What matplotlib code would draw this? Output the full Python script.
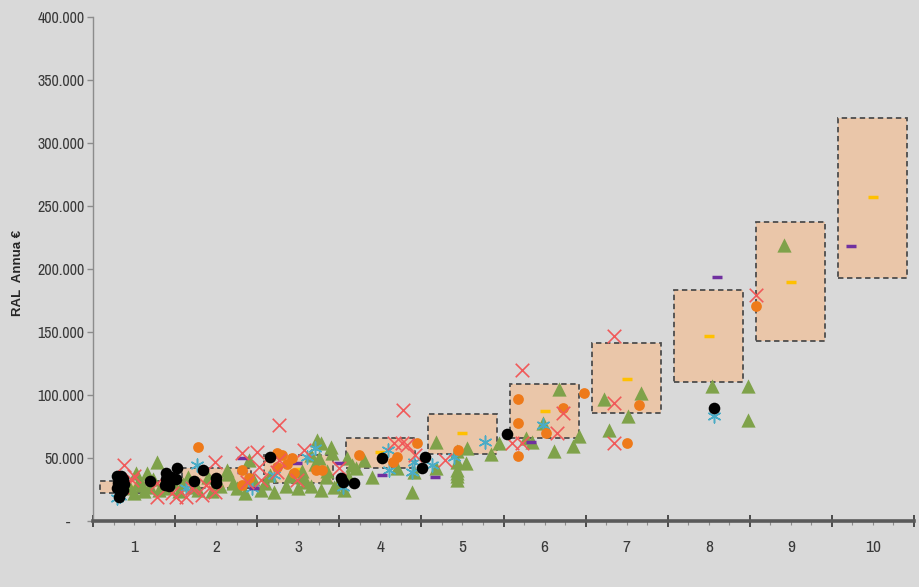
import numpy as np
import matplotlib
matplotlib.use("Agg")
import matplotlib.pyplot as plt
from matplotlib import font_manager
from matplotlib.ticker import FixedLocator, MultipleLocator, FuncFormatter, NullFormatter
from matplotlib.transforms import blended_transform_factory

# prefer a condensed face for the axis numbers when one is installed
_families = sorted({f.name for f in font_manager.fontManager.ttflist})
_narrow = [n for n in _families if 'Narrow' in n or 'Condensed' in n]
NUM_FONT = [_narrow[0]] if _narrow else []
NUM_FONT += ['Liberation Sans', 'DejaVu Sans']
NUM_SIZE = 11.5 if _narrow else 9.5
plt.rcParams['font.family'] = NUM_FONT

# ---- salary bands per level (thousands of euro) ----
box_cat = [1, 2, 3, 4, 5, 6, 7, 8, 9, 10]
box_low = [22, 26, 30, 42, 53, 66, 86, 110, 143, 193]
box_high = [32, 42, 52, 66, 85, 109, 141, 183, 237, 320]
box_median = [27, 33, 41, 55, 70, 87, 113, 147, 190, 257]

# ---- individual salaries (level position, thousands of euro) ----
green_x = [0.95, 1.00, 1.02, 1.05, 1.10, 1.12, 1.16, 1.20, 1.23, 1.28, 1.30, 1.35, 1.42, 1.48,
           1.55, 1.60, 1.66, 1.72, 1.78,
           1.90, 1.95, 2.05, 2.13, 2.15, 2.20, 2.25, 2.35, 2.40, 2.45, 2.55, 2.60, 2.65, 2.71,
           2.85, 2.90, 3.00,
           3.05, 3.05, 3.10, 3.15, 3.15, 3.20, 3.23, 3.25, 3.28, 3.28, 3.34, 3.35, 3.40, 3.41,
           3.44, 3.48, 3.56, 3.59, 3.60, 3.66, 3.70, 3.80, 3.90,
           4.20, 4.38, 4.41, 4.68, 4.68, 4.93, 4.93, 4.93, 4.93, 4.93, 4.93, 5.04, 5.05, 5.35, 5.45,
           5.78, 5.85, 5.98, 6.11, 6.17, 6.35, 6.42,
           6.73, 6.79, 7.02, 7.17,
           8.04, 8.48, 8.48, 8.92]
green_y = [26.0, 22.5, 38.1, 30.0, 28.6, 24.0, 38.1, 27.0, 33.0, 46.8, 25.0, 30.0, 26.0, 31.0,
           24.0, 29.0, 35.0, 27.0, 24.5,
           35.0, 24.0, 28.0, 40.5, 37.0, 30.2, 26.0, 22.0, 48.4, 33.0, 25.0, 30.0, 36.5, 23.0,
           28.0, 36.0, 26.0,
           34.9, 40.0, 31.0, 28.0, 52.0, 45.0, 64.3, 50.0, 62.0, 24.6, 34.9, 40.0, 58.7, 54.0,
           27.0, 30.0, 24.6, 50.0, 36.0, 44.4, 42.0, 48.4, 34.9,
           42.0, 23.0, 38.9, 62.7, 42.0, 55.6, 47.0, 40.5, 38.0, 35.7, 32.5, 46.0, 58.0, 53.2, 61.9,
           65.9, 62.7, 77.8, 55.6, 104.8, 59.6, 67.5,
           96.8, 72.2, 83.3, 101.6,
           107.0, 107.0, 80.2, 219.0]

cyan_x = [0.79, 0.83, 1.63, 1.77, 2.44, 2.71, 3.11, 3.20, 3.54, 4.09, 4.11, 4.39, 4.41, 4.63,
          4.90, 5.28, 5.98, 8.07]
cyan_y = [18.3, 20.0, 26.2, 44.4, 26.2, 36.5, 50.8, 57.9, 27.0, 56.3, 40.5, 38.9, 46.8, 44.4,
          50.8, 62.7, 76.0, 83.3]

purple_x = [2.32, 2.32, 2.46, 2.98, 3.50, 4.02, 4.66, 5.84, 8.10, 9.73]
purple_y = [50.0, 38.9, 26.2, 46.0, 46.0, 36.5, 34.9, 62.7, 194.0, 218.0]

orange_x = [1.78, 2.32, 2.32, 2.40, 2.74, 2.74, 2.80, 2.86, 2.92, 2.95, 3.22, 3.29, 3.74, 4.15,
            4.20, 4.45, 4.95, 5.68, 5.68, 5.68, 6.02, 6.22, 6.48, 7.01, 7.15, 8.57]
orange_y = [59.0, 40.5, 28.6, 34.1, 54.0, 42.9, 52.4, 45.0, 50.0, 38.0, 40.5, 40.5, 52.4, 46.8,
            50.8, 61.9, 56.3, 96.8, 77.8, 51.6, 69.8, 89.7, 101.6, 61.9, 92.0, 170.6]

red_x = [0.88, 0.85, 0.98, 1.00, 1.28, 1.28, 1.46, 1.51, 1.63, 1.70, 1.83, 1.88, 1.98, 1.98,
         2.32, 2.37, 2.50, 2.52, 2.55, 2.74, 2.77, 2.77, 2.98, 3.07, 3.50, 4.17, 4.26, 4.32,
         4.28, 4.42, 4.79, 5.60, 5.73, 5.73, 6.15, 6.22, 6.84, 6.84, 6.84, 8.57]
red_y = [44.4, 27.0, 32.5, 36.0, 30.2, 19.0, 22.2, 19.0, 19.0, 26.2, 20.6, 28.6, 46.8, 23.0,
         54.0, 31.0, 54.8, 42.9, 32.5, 38.9, 48.4, 76.2, 32.5, 56.3, 42.1, 61.9, 61.9, 60.3,
         88.1, 52.4, 48.4, 61.9, 61.9, 119.8, 69.8, 85.7, 146.8, 93.7, 61.9, 179.4]

black_x = [0.79, 0.84, 0.82, 0.88, 0.79, 0.84, 0.82, 0.86, 0.80, 0.87, 1.20, 1.39, 1.52, 1.39,
           1.45, 1.51, 1.38, 1.43, 1.73, 1.84, 2.00, 2.00, 2.66, 3.52, 3.54, 3.68, 4.02, 4.54,
           4.51, 5.54, 8.06]
black_y = [35.7, 35.7, 31.0, 29.4, 26.2, 23.0, 19.0, 33.0, 30.0, 25.0, 31.7, 38.1, 42.1, 33.3,
           34.9, 33.3, 28.6, 27.8, 31.7, 40.5, 34.1, 30.2, 50.8, 34.1, 31.0, 30.2, 50.0, 50.8,
           42.1, 69.0, 89.7]

level_labels = ['1', '2', '3', '4', '5', '6', '7', '8', '9', '10']
y_ticks = [0, 50, 100, 150, 200, 250, 300, 350, 400]

BG = '#D9D9D9'
fig = plt.figure(figsize=(9.19, 5.87), dpi=100, facecolor=BG)
ax = fig.add_axes([93 / 919, 1 - 521 / 587, (914 - 93) / 919, (521 - 17) / 587])
ax.set_facecolor(BG)
ax.set_xlim(0.5, 10.5)
ax.set_ylim(0, 400)

# salary bands
ax.bar(box_cat, np.array(box_high) - np.array(box_low), bottom=box_low, width=0.84,
       facecolor='#EAC6A9', edgecolor='#4D4D4D', linestyle=(0, (3, 2)), linewidth=1.3,
       zorder=1)
ax.scatter(box_cat, box_median, marker='_', s=55, color='#FFC000', linewidths=2.5, zorder=2)

# individual salaries
ax.scatter(green_x, green_y, marker='^', s=105, color='#7FA24A', linewidths=0, zorder=3)
ax.scatter(cyan_x, cyan_y, marker=(6, 2, 0), s=85, color='#4BACC6', linewidths=1.1, zorder=4)
ax.scatter(purple_x, purple_y, marker='_', s=45, color='#7030A0', linewidths=2.5, zorder=4)
ax.scatter(orange_x, orange_y, marker='o', s=60, color='#EE7A1A', linewidths=0, zorder=5)
ax.scatter(red_x, red_y, marker='x', s=95, color='#F05A5A', linewidths=1.2, zorder=6)
ax.scatter(black_x, black_y, marker='o', s=70, color='black', linewidths=0, zorder=7)

# axes styling
for side in ('top', 'right'):
    ax.spines[side].set_visible(False)
ax.spines['left'].set_color('#8C8C8C')
ax.spines['left'].set_linewidth(1.0)
ax.spines['bottom'].set_color('#5A5A5A')
ax.spines['bottom'].set_linewidth(2.6)

ax.yaxis.set_major_locator(FixedLocator(y_ticks))
ax.yaxis.set_major_formatter(FuncFormatter(lambda v, p: '-    ' if v == 0 else f'{int(v)}.000'))
ax.tick_params(axis='y', direction='out', length=4, width=1, color='#8C8C8C',
               labelsize=NUM_SIZE, labelcolor='#3A3A3A', pad=2)

ax.xaxis.set_major_locator(FixedLocator(np.arange(0.5, 11, 1)))
ax.xaxis.set_minor_locator(MultipleLocator(0.25))
ax.xaxis.set_major_formatter(NullFormatter())
ax.tick_params(axis='x', which='major', direction='inout', length=9, width=1.3, color='#404040')
ax.tick_params(axis='x', which='minor', direction='out', length=3, width=0.8, color='#8C8C8C')

trans = blended_transform_factory(ax.transData, ax.transAxes)
for k, lab in zip(box_cat, level_labels):
    ax.text(k, -26 / 504, lab, transform=trans, ha='center', va='center',
            fontsize=NUM_SIZE + 1, color='#3A3A3A')

fig.text(18 / 919, 1 - 273 / 587, 'RAL  Annua €', rotation=90, ha='center', va='center',
         fontsize=9.5, fontweight='bold', color='#262626',
         family=['Liberation Sans', 'DejaVu Sans'])

fig.savefig('out.png', dpi=100, facecolor=BG)
